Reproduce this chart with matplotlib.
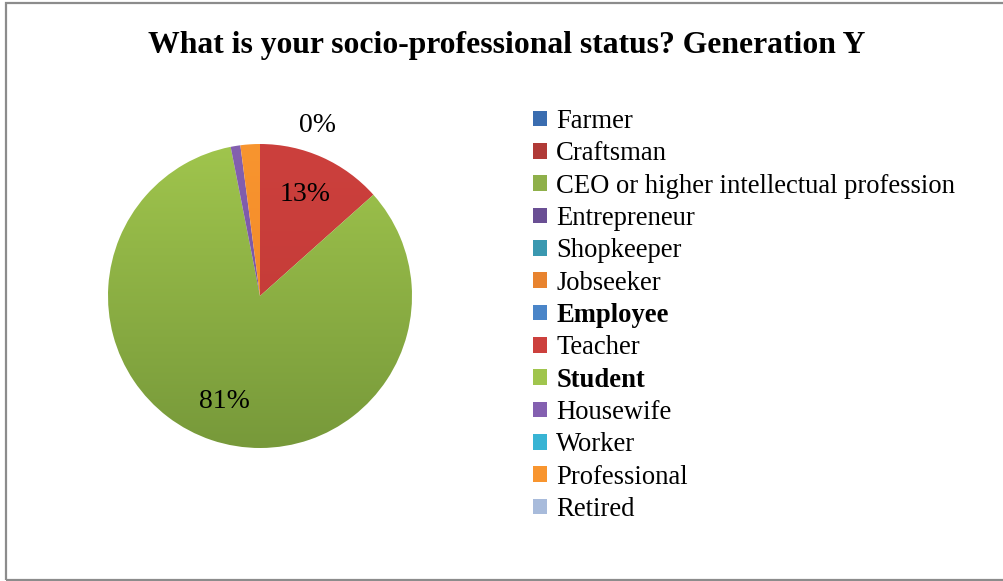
import numpy as np
import matplotlib
matplotlib.use("Agg")
import matplotlib.pyplot as plt
from matplotlib.patches import Rectangle, Patch
from matplotlib.colors import LinearSegmentedColormap

plt.rcParams['font.family'] = ['Liberation Serif', 'DejaVu Serif']

title = "What is your socio-professional status? Generation Y"
categories = ["Farmer", "Craftsman", "CEO or higher intellectual profession",
              "Entrepreneur", "Shopkeeper", "Jobseeker", "Employee", "Teacher",
              "Student", "Housewife", "Worker", "Professional", "Retired"]
# share of respondents, percent
shares = [0, 0, 0, 0, 0, 0, 0, 13, 81, 1, 0, 2, 0]
bold_labels = ["Employee", "Student"]

# (light top, dark bottom) per category, Office-style palette
colors = [("#3a6db0", "#2a5690"), ("#b03a37", "#8c2b28"), ("#8fb04a", "#6c8c34"),
          ("#6a4f94", "#533b7a"), ("#3a98b0", "#2a7890"), ("#e8832e", "#c86818"),
          ("#4a85c8", "#3568a8"), ("#cc403d", "#c03935"), ("#a0c54d", "#77993a"),
          ("#8460b0", "#6f4e9c"), ("#38b4d4", "#2794b2"), ("#f8952f", "#f08224"),
          ("#a8bbdb", "#8c9fc4")]

W, H = 1004, 581
fig = plt.figure(figsize=(W / 100, H / 100), dpi=100)

# chart frame
fig.patches.append(Rectangle((6 / W, 1.5 / H), (W + 10) / W, (H - 4.5) / H,
                             transform=fig.transFigure, fill=False,
                             edgecolor="#8c8c8c", linewidth=1.6))

fig.text(507 / W, 1 - 46 / H, title, ha="center", va="center",
         fontsize=22.8, fontweight="bold")

# pie axes
cx, cy, r = 260, 296, 152
ax = fig.add_axes([(cx - r) / W, (H - cy - r) / H, 2 * r / W, 2 * r / H])

wedges, _ = ax.pie(shares, startangle=90, counterclock=False, radius=1,
                   colors=[c[0] for c in colors],
                   wedgeprops=dict(linewidth=0))
ax.set_xlim(-1, 1)
ax.set_ylim(-1, 1)
ax.set_aspect("equal")
ax.axis("off")

# vertical gradient fill clipped to each wedge
grad = np.linspace(0, 1, 256).reshape(-1, 1)
for w, s, (top, bottom) in zip(wedges, shares, colors):
    if s == 0:
        continue
    cmap = LinearSegmentedColormap.from_list("g", [top, bottom])
    im = ax.imshow(grad, cmap=cmap, extent=(-1, 1, -1, 1), origin="upper",
                   aspect="auto", zorder=w.get_zorder())
    im.set_clip_path(w)
    w.set_facecolor("none")

# percentage labels (tiny slices unlabelled)
for w, s in zip(wedges, shares):
    if s < 5:
        continue
    mid = np.deg2rad((w.theta1 + w.theta2) / 2)
    ax.text(0.73 * np.cos(mid), 0.73 * np.sin(mid), f"{s:.0f}%",
            ha="center", va="center", fontsize=20)
ax.text(0.38, 1.12, f"{shares[0]:.0f}%", ha="center", va="center",
        fontsize=20, clip_on=False)

# legend
handles = [Patch(facecolor=c[0], edgecolor="none") for c in colors]
leg = fig.legend(handles, categories, loc="upper left",
                 bbox_to_anchor=(533 / W, 1 - 109 / H), frameon=False,
                 fontsize=19.2, handlelength=0.52, handleheight=0.52,
                 handletextpad=0.35, labelspacing=0.275, borderaxespad=0,
                 borderpad=0)
for t in leg.get_texts():
    if t.get_text() in bold_labels:
        t.set_fontweight("bold")

fig.savefig("out.png", dpi=100)
